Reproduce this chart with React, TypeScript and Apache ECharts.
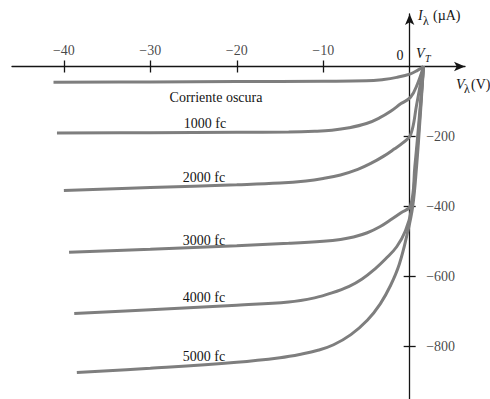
import React, { useEffect, useRef } from 'react';
import * as echarts from 'echarts';

// Photodiode characteristic curves: [V_lambda (V), I_lambda (uA)]
const darkCurrent = [[-41.2, -45], [-30, -44], [-20, -43], [-10, -42], [-5, -41], [-3, -37], [-1.5, -31], [0.1, -21], [0.9, -11], [1.6, 0]];
const fc1000 = [[-40.8, -190], [-30, -189], [-20, -188], [-14, -187], [-11, -185], [-9, -182], [-7, -175], [-5, -163], [-3.5, -147], [-2.2, -128], [-1, -106], [0.1, -88], [0.9, -50], [1.6, 0]];
const fc2000 = [[-40, -354], [-30, -346], [-20, -338], [-15, -333], [-12, -327], [-10, -320], [-8, -310], [-6, -294], [-4.5, -277], [-3, -256], [-1.8, -236], [-0.8, -218], [0.1, -196], [0.8, -110], [1.6, 0]];
const fc3000 = [[-39.4, -531], [-30, -522], [-20, -512], [-14, -505], [-10, -499], [-8, -494], [-6.5, -487], [-4.9, -475], [-3.4, -457], [-2.2, -438], [-1, -418], [0.1, -398], [0.6, -285], [1.1, -150], [1.6, 0]];
const fc4000 = [[-38.8, -706], [-30, -695], [-20, -682], [-14, -673], [-11, -661], [-9, -647], [-7, -628], [-5.5, -607], [-4, -578], [-2.8, -550], [-1.5, -515], [-0.5, -470], [0.2, -410], [0.7, -285], [1.15, -150], [1.6, 0]];
const fc5000 = [[-38.5, -874], [-30, -862], [-20, -845], [-15, -832], [-12.6, -822], [-10.5, -810], [-8.8, -795], [-6.8, -766], [-4.9, -725], [-3.4, -678], [-2.2, -625], [-1.2, -565], [-0.3, -480], [0.35, -400], [0.8, -285], [1.2, -150], [1.6, 0]];

const curveNames = ['Corriente oscura', '1000 fc', '2000 fc', '3000 fc', '4000 fc', '5000 fc'];
const xTickValues = [-40, -30, -20, -10];
const yTickValues = [-200, -400, -600, -800];

export default function App() {
  const ref = useRef<HTMLDivElement>(null);
  useEffect(() => {
    const chart = echarts.init(ref.current as HTMLDivElement, null, { renderer: 'svg' });
    const serif = '"Liberation Serif", "Times New Roman", serif';
    const ink = '#151515';
    const minus = (v: number) => (v < 0 ? '\u2212' + Math.abs(v) : String(v));
    const curves = [darkCurrent, fc1000, fc2000, fc3000, fc4000, fc5000];
    const series: any[] = curves.map((data, i) => ({
      type: 'line',
      name: curveNames[i],
      data,
      xAxisIndex: 0,
      yAxisIndex: 0,
      symbol: 'none',
      smooth: 0.4,
      silent: true,
      lineStyle: { color: '#7e7e7e', width: 3 },
      z: 3,
    }));
    // tick labels placed through the axes' own scales
    series.push({
      type: 'scatter',
      xAxisIndex: 0,
      yAxisIndex: 0,
      data: xTickValues.map((v) => [v, 0]),
      symbolSize: 1,
      itemStyle: { color: 'rgba(0,0,0,0)' },
      silent: true,
      label: { show: true, position: 'top', distance: 9, formatter: (p: any) => minus(p.value[0]), color: ink, fontFamily: serif, fontSize: 14 },
      z: 5,
    });
    series.push({
      type: 'scatter',
      xAxisIndex: 0,
      yAxisIndex: 0,
      data: yTickValues.map((v) => [0, v]),
      symbolSize: 1,
      itemStyle: { color: 'rgba(0,0,0,0)' },
      silent: true,
      label: { show: true, position: 'right', distance: 16, formatter: (p: any) => minus(p.value[1]), color: ink, fontFamily: serif, fontSize: 14 },
      z: 5,
    });
    const tickStyle = { color: ink, width: 1.3 };
    const txt = (text: string, x: number, y: number, font: string, align = 'left') => ({
      type: 'text',
      x,
      y,
      silent: true,
      style: { text, font, fill: ink, align, verticalAlign: 'middle' },
    });
    const f14 = '14px ' + serif;
    const i14 = 'italic 14px ' + serif;
    const i10 = 'italic 10px ' + serif;
    const f12 = '12px ' + serif;
    chart.setOption({
      animation: false,
      grid: { left: 12, top: 14, width: 453, height: 385, outerBoundsMode: 'none', containLabel: false },
      xAxis: [
        {
          type: 'value', min: -46, max: 6.4, position: 'top',
          axisLine: { onZero: true, onZeroAxisIndex: 0, symbol: ['none', 'arrow'], symbolSize: [7, 11], lineStyle: tickStyle },
          axisTick: { show: true, customValues: xTickValues, length: 6, lineStyle: tickStyle },
          axisLabel: { show: false },
          splitLine: { show: false },
        },
        {
          type: 'value', min: -46, max: 6.4, position: 'bottom',
          axisLine: { show: false, onZero: true, onZeroAxisIndex: 0 },
          axisTick: { show: true, customValues: xTickValues, length: 6, lineStyle: tickStyle },
          axisLabel: { show: false },
          splitLine: { show: false },
        },
      ],
      yAxis: [
        {
          type: 'value', min: -950, max: 150, position: 'right',
          axisLine: { onZero: true, onZeroAxisIndex: 0, symbol: ['none', 'arrow'], symbolSize: [7, 11], lineStyle: tickStyle },
          axisTick: { show: true, customValues: yTickValues, length: 6, lineStyle: tickStyle },
          axisLabel: { show: false },
          splitLine: { show: false },
        },
        {
          type: 'value', min: -950, max: 150, position: 'left',
          axisLine: { show: false, onZero: true, onZeroAxisIndex: 0 },
          axisTick: { show: true, customValues: yTickValues, length: 6, lineStyle: tickStyle },
          axisLabel: { show: false },
          splitLine: { show: false },
        },
      ],
      series,
      graphic: [
        txt('0', 400, 55, f14, 'center'),
        txt('V', 416, 53, i14),
        txt('T', 425, 58, i10),
        txt('I', 418, 15, i14),
        txt('\u03bb', 423, 21, f12),
        txt('(\u00b5A)', 433, 15, f14),
        txt('V', 456, 84, i14),
        txt('\u03bb', 464, 89, f12),
        txt('(V)', 471, 84, f14),
        txt(curveNames[0], 216, 97, f14, 'center'),
        txt(curveNames[1], 205, 123, f14, 'center'),
        txt(curveNames[2], 204, 177, f14, 'center'),
        txt(curveNames[3], 204, 240, f14, 'center'),
        txt(curveNames[4], 204, 297, f14, 'center'),
        txt(curveNames[5], 204, 356, f14, 'center'),
      ],
    });
    return () => chart.dispose();
  }, []);
  return <div ref={ref} style={{ position: 'fixed', left: 0, top: 0, width: 490, height: 399, background: '#fff' }} />;
}
